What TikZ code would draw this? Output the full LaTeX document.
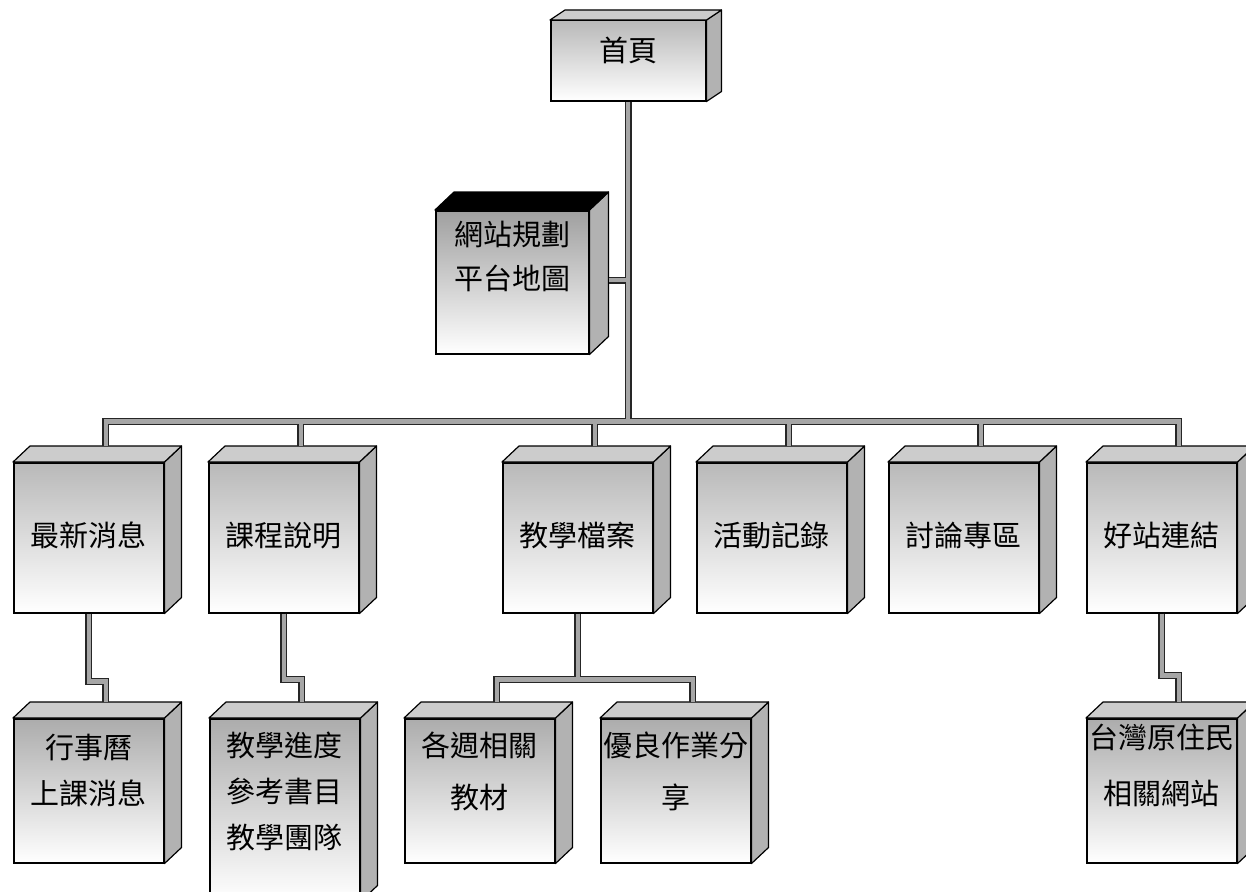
\documentclass[tikz,border=0pt]{standalone}
\usepackage{fontspec}
\newfontfamily\cjk{Noto Sans CJK TC}
\usetikzlibrary{calc}
\begin{document}
\begin{tikzpicture}[x=1pt,y=-1pt,
  box/.style={draw=black, line width=1.5pt, rectangle, inner sep=0pt, anchor=north west,
    top color=gray!55, bottom color=white},
  darkbox/.style={box, top color=gray!75, bottom color=white},
  lbl/.style={font=\cjk\fontsize{29}{46}\selectfont, align=center, inner sep=0pt},
  side/.style={fill=gray!60, draw=black, line width=1.2pt, line join=round},
  topf/.style={fill=gray!40, draw=black, line width=1.2pt, line join=round},
  conn/.style={draw=gray!70, line width=4.2pt, preaction={draw=black!85, line width=7pt}}]
\useasboundingbox (0,0) rectangle (1246,891);

% level 0 and 1
\node[box, minimum width=155pt, minimum height=80pt,
  label={[lbl, yshift=10pt]center:首頁}] (home) at (550,20) {};
\node[darkbox, minimum width=153pt, minimum height=143pt,
  label={[lbl, font=\cjk\fontsize{29}{44}\selectfont, yshift=26pt]center:網站規劃\\平台地圖}] (site) at (435,210) {};

% level 2
\node[box, minimum width=150pt, minimum height=150pt, label={[lbl, yshift=2pt]center:最新消息}] (news) at (13,462) {};
\node[box, minimum width=150pt, minimum height=150pt, label={[lbl, yshift=2pt]center:課程說明}] (course) at (208,462) {};
\node[box, minimum width=150pt, minimum height=150pt, label={[lbl, yshift=2pt]center:教學檔案}] (teach) at (502,462) {};
\node[box, minimum width=150pt, minimum height=150pt, label={[lbl, yshift=2pt]center:活動記錄}] (act) at (696,462) {};
\node[box, minimum width=150pt, minimum height=150pt, label={[lbl, yshift=2pt]center:討論專區}] (forum) at (888,462) {};
\node[box, minimum width=150pt, minimum height=150pt, label={[lbl, yshift=2pt]center:好站連結}] (links) at (1086,462) {};

% level 3
\node[box, top color=gray!65, minimum width=150pt, minimum height=144pt,
  label={[lbl, yshift=20pt]center:行事曆\\上課消息}] (cal) at (13,718) {};
\node[box, top color=gray!65, minimum width=150pt, minimum height=182pt,
  label={[lbl, yshift=18pt]center:教學進度\\參考書目\\教學團隊}] (prog) at (209,718) {};
\node[box, top color=gray!65, minimum width=150pt, minimum height=144pt,
  label={[lbl, font=\cjk\fontsize{29}{52}\selectfont, yshift=19pt]center:各週相關\\教材}] (week) at (404,718) {};
\node[box, top color=gray!65, minimum width=150pt, minimum height=144pt,
  label={[lbl, font=\cjk\fontsize{29}{52}\selectfont, yshift=19pt]center:優良作業分\\享}] (good) at (600,718) {};
\node[box, top color=gray!65, minimum width=150pt, minimum height=144pt,
  label={[lbl, font=\cjk\fontsize{29}{56}\selectfont, yshift=25pt]center:台灣原住民\\相關網站}] (tw) at (1086,718) {};

% 3D faces
\foreach \n/\dx/\dy/\tc in {home/15/10/gray!40, site/19/18/black, news/17/16/gray!40,
  course/17/16/gray!40, teach/17/16/gray!40, act/17/16/gray!40, forum/17/16/gray!40,
  links/17/16/gray!40, cal/17/16/gray!40, prog/17/16/gray!40, week/17/16/gray!40,
  good/17/16/gray!40, tw/17/16/gray!40}{
  \filldraw[side] (\n.north east) -- ++(\dx,-\dy) -- ($(\n.south east)+(\dx,-\dy)$) -- (\n.south east) -- cycle;
  \filldraw[topf, fill=\tc] (\n.north west) -- ++(\dx,-\dy) -- ($(\n.north east)+(\dx,-\dy)$) -- (\n.north east) -- cycle;
  \coordinate (\n-t) at ($(\n.north)+(\dx,-\dy)$);
}

% connection points
\path (home.south) ++(0,320) coordinate (bus);
\coordinate (site-r) at ($(site.east)+(19,-2)$);

% connectors
\path[conn] (home.south) -- (bus)
  (bus) -| (news-t) (bus) -| (course-t) (bus) -| (teach-t)
  (bus) -| (act-t) (bus) -| (forum-t) (bus) -| (links-t)
  (site-r) -- (site-r -| bus)
  (news.south) -- ++(0,68) -| (cal-t)
  (course.south) -- ++(0,66) -| (prog-t)
  (teach.south) -- ++(0,66) coordinate (tj) -| (week-t)
  (tj) -| (good-t)
  (links.south) -- ++(0,62) -| (tw-t);
\end{tikzpicture}
\end{document}
